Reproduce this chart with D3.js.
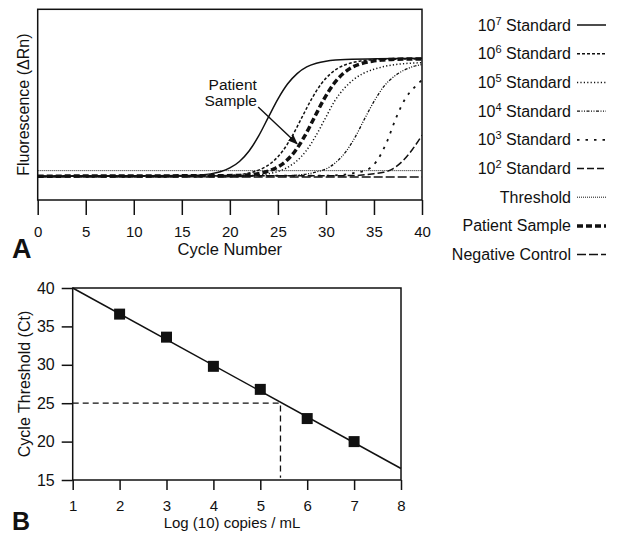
<!DOCTYPE html>
<html>
<head>
<meta charset="utf-8">
<script src="https://cdn.jsdelivr.net/npm/d3@7"></script>
<style>
  body { margin: 0; background: #fff; }
  svg { display: block; font-family: "Liberation Sans", Arial, sans-serif; }
</style>
</head>
<body>
<svg id="chart" width="619" height="534"></svg>
<script>
// ---- data: panel A amplification curves, [cycle, fluorescence]
const std7 = [[0,12.5],[16,12.8],[17,13.1],[18,13.7],[19,14.8],[20,16.8],[21,20.2],[22,25.7],[23,33.6],[24,43.3],[25,52.9],[26,60.8],[27,66.3],[28,69.8],[29,71.7],[30,72.8],[31,73.4],[32,73.7],[40,74.3]];
const std6 = [[0,12.5],[19.5,12.8],[20.5,13.1],[21.5,13.7],[22.5,14.8],[23.5,16.8],[24.5,20.2],[25.5,25.7],[26.5,33.6],[27.5,43.3],[28.5,52.9],[29.5,60.8],[30.5,66.3],[31.5,69.8],[32.5,71.7],[33.5,72.8],[34.5,73.4],[35.5,73.7],[40,74]];
const std5 = [[0,12.5],[21.9,12.8],[22.9,13.1],[23.9,13.7],[24.9,14.8],[25.9,16.8],[26.9,20.2],[27.9,25.5],[28.9,33.2],[29.9,42.5],[30.9,51.8],[31.9,58.5],[32.9,63.2],[33.9,66.4],[34.9,68.4],[35.9,69.8],[36.9,70.8],[37.9,71.4],[40,72]];
const std4 = [[0,12.5],[26.1,12.8],[27.1,13.1],[28.1,13.7],[29.1,14.8],[30.1,16.5],[31.1,20],[32.1,25.5],[33.1,33.5],[34.1,43.3],[35.1,52.5],[36.1,60],[37.1,64.8],[38.1,68],[39.1,70],[40,71]];
const std3 = [[0,12.5],[30.3,12.8],[31.3,13.1],[32.3,13.6],[33.3,14.5],[34.3,15.8],[35.3,20.5],[36.3,30],[37.3,43],[38.3,53.5],[39.3,59.5],[40,63]];
const std2 = [[0,12.5],[33,12.8],[34,13.2],[35,13.8],[36,14.5],[37,16.5],[38,20.5],[39,26.5],[40,34]];
const patient = [[0,12.5],[20.8,12.8],[21.8,13.1],[22.8,13.7],[23.8,14.8],[24.8,16.8],[25.8,20.2],[26.8,25.7],[27.8,33.6],[28.8,43.3],[29.8,52.9],[30.8,60.8],[31.8,66.3],[32.8,69.8],[33.8,71.7],[34.8,72.8],[35.8,73.4],[36.8,73.7],[40,74]];
const negative = [[0,12],[40,12]];
const threshold = 15.4;
const cycleTicks = [0, 5, 10, 15, 20, 25, 30, 35, 40];

// ---- data: panel B standard curve
const logCopies = [2, 3, 4, 5, 6, 7];
const ctValues = [36.6, 33.6, 29.8, 26.8, 23.0, 20.0];
const fitLine = [[1, 40], [8, 16.5]];
const patientCt = 25;
const patientLog = 5.43;
const logTicks = [1, 2, 3, 4, 5, 6, 7, 8];
const ctTicks = [15, 20, 25, 30, 35, 40];

// ---- legend
const legendItems = [
  { sup: "7", label: " Standard", dash: null, width: 1.5 },
  { sup: "6", label: " Standard", dash: "3,2", width: 1.5 },
  { sup: "5", label: " Standard", dash: "1.2,2.2", width: 1.5 },
  { sup: "4", label: " Standard", dash: "3,1.5,1,1.5,1,1.5", width: 1.3 },
  { sup: "3", label: " Standard", dash: "2.5,6", width: 1.8 },
  { sup: "2", label: " Standard", dash: "7,3", width: 1.5 },
  { sup: null, label: "Threshold", dash: "1,1", width: 1 },
  { sup: null, label: "Patient Sample", dash: "6,3", width: 3.5 },
  { sup: null, label: "Negative Control", dash: "9,3", width: 1.5 }
];
const curves = [std7, std6, std5, std4, std3, std2, null, patient, negative];

const svg = d3.select("#chart");

// =================== Panel A ===================
const xA = d3.scaleLinear().domain([0, 40]).range([37.7, 422]);
const yA = d3.scaleLinear().domain([0, 100]).range([200, 9.3]);

svg.append("clipPath").attr("id", "clipA")
  .append("rect")
    .attr("x", xA(0)).attr("y", yA(100))
    .attr("width", xA(40) - xA(0)).attr("height", yA(0) - yA(100));

const gA = svg.append("g");

gA.append("line")
    .attr("x1", xA(0)).attr("x2", xA(40))
    .attr("y1", yA(threshold)).attr("y2", yA(threshold))
    .attr("stroke", "#111").attr("stroke-width", 1)
    .attr("stroke-dasharray", "1,1");

const lineA = d3.line()
    .x(d => xA(d[0]))
    .y(d => yA(d[1]))
    .curve(d3.curveMonotoneX);

gA.append("g")
    .attr("clip-path", "url(#clipA)")
  .selectAll("path")
  .data(curves.map((c, i) => ({ c, s: legendItems[i] })).filter(d => d.c))
  .join("path")
    .attr("d", d => lineA(d.c))
    .attr("fill", "none")
    .attr("stroke", "#111")
    .attr("stroke-width", d => d.s.width)
    .attr("stroke-dasharray", d => d.s.dash);

gA.append("rect")
    .attr("x", xA(0)).attr("y", yA(100))
    .attr("width", xA(40) - xA(0)).attr("height", yA(0) - yA(100))
    .attr("fill", "none").attr("stroke", "#111").attr("stroke-width", 1.5);

const axA = gA.append("g")
    .attr("transform", `translate(0,${yA(0)})`)
    .call(d3.axisBottom(xA).tickValues(cycleTicks).tickSize(15).tickPadding(11));
axA.select(".domain").remove();
axA.selectAll(".tick line").attr("stroke", "#111").attr("stroke-width", 1.5);
axA.selectAll(".tick text").attr("font-size", 15).attr("fill", "#111")
    .style("font-family", "Liberation Sans, Arial, sans-serif");

gA.append("text")
    .attr("x", xA(20)).attr("y", 255)
    .attr("text-anchor", "middle").attr("font-size", 16.5).attr("fill", "#111")
    .text("Cycle Number");

gA.append("text")
    .attr("transform", `translate(29,${yA(50)}) rotate(-90)`)
    .attr("text-anchor", "middle").attr("font-size", 16).attr("fill", "#111")
    .text("Fluorescence (\u0394Rn)");

gA.append("text")
    .attr("x", 12).attr("y", 258)
    .attr("font-size", 27).attr("font-weight", "bold").attr("fill", "#111")
    .text("A");

// annotation
const noteAt = [20.3, 57.5];
const arrowFrom = [22.95, 48.8];
const arrowTo = [27.0, 29.5];
svg.append("defs").append("marker")
    .attr("id", "arrow").attr("viewBox", "0 0 10 10")
    .attr("refX", 9).attr("refY", 5)
    .attr("markerWidth", 7).attr("markerHeight", 7)
    .attr("orient", "auto")
  .append("path").attr("d", "M0,1 L10,5 L0,9 Z").attr("fill", "#111");

const note = gA.append("text")
    .attr("text-anchor", "middle").attr("font-size", 15.5).attr("fill", "#111");
note.append("tspan").attr("x", xA(noteAt[0])).attr("y", yA(noteAt[1])).text("Patient");
note.append("tspan").attr("x", xA(noteAt[0]) - 2).attr("dy", 16).text("Sample");

gA.append("line")
    .attr("x1", xA(arrowFrom[0])).attr("y1", yA(arrowFrom[1]))
    .attr("x2", xA(arrowTo[0])).attr("y2", yA(arrowTo[1]))
    .attr("stroke", "#111").attr("stroke-width", 1.4)
    .attr("marker-end", "url(#arrow)");

// legend
const leg = svg.append("g");
const rowY = i => 25 + i * 28.7;
const legRows = leg.selectAll("g")
  .data(legendItems)
  .join("g")
    .attr("transform", (d, i) => `translate(0,${rowY(i)})`);

const legText = legRows.append("text")
    .attr("x", 571).attr("y", 5.5)
    .attr("text-anchor", "end").attr("font-size", 16).attr("fill", "#111");
legText.each(function(d) {
  const t = d3.select(this);
  if (d.sup) {
    t.append("tspan").text("10");
    t.append("tspan").attr("font-size", 11).attr("dy", -6).text(d.sup);
    t.append("tspan").attr("dy", 6).text(d.label);
  } else {
    t.text(d.label);
  }
});

legRows.append("line")
    .attr("x1", 577).attr("x2", 606)
    .attr("stroke", "#111")
    .attr("stroke-width", d => d.width)
    .attr("stroke-dasharray", d => d.dash);

// =================== Panel B ===================
const xB = d3.scaleLinear().domain([1, 8]).range([72.7, 401]);
const yB = d3.scaleLinear().domain([15, 40]).range([480, 288]);
const gB = svg.append("g");

gB.append("path")
    .attr("d", d3.line()([[xB(1), yB(patientCt)], [xB(patientLog), yB(patientCt)], [xB(patientLog), yB(15.3)]]))
    .attr("fill", "none").attr("stroke", "#111").attr("stroke-width", 1.3)
    .attr("stroke-dasharray", "6,4");

gB.append("path")
    .attr("d", d3.line().x(d => xB(d[0])).y(d => yB(d[1]))(fitLine))
    .attr("fill", "none").attr("stroke", "#111").attr("stroke-width", 1.5);

gB.selectAll(".pt")
  .data(logCopies.map((x, i) => [x, ctValues[i]]))
  .join("path")
    .attr("class", "pt")
    .attr("transform", d => `translate(${xB(d[0])},${yB(d[1])})`)
    .attr("d", d3.symbol(d3.symbolSquare, 121))
    .attr("fill", "#111");

gB.append("rect")
    .attr("x", xB(1)).attr("y", yB(40))
    .attr("width", xB(8) - xB(1)).attr("height", yB(15) - yB(40))
    .attr("fill", "none").attr("stroke", "#111").attr("stroke-width", 1.5);

const axBx = gB.append("g")
    .attr("transform", `translate(0,${yB(15)})`)
    .call(d3.axisBottom(xB).tickValues(logTicks).tickFormat(d3.format("d")).tickSize(10).tickPadding(10));
axBx.select(".domain").remove();
axBx.selectAll(".tick line").attr("stroke", "#111").attr("stroke-width", 1.5);
axBx.selectAll(".tick text").attr("font-size", 15).attr("fill", "#111")
    .style("font-family", "Liberation Sans, Arial, sans-serif");

const axBy = gB.append("g")
    .attr("transform", `translate(${xB(1)},0)`)
    .call(d3.axisLeft(yB).tickValues(ctTicks).tickSize(11).tickPadding(7));
axBy.select(".domain").remove();
axBy.selectAll(".tick line").attr("stroke", "#111").attr("stroke-width", 1.5);
axBy.selectAll(".tick text").attr("font-size", 16).attr("fill", "#111")
    .style("font-family", "Liberation Sans, Arial, sans-serif");

gB.append("text")
    .attr("x", 232).attr("y", 528)
    .attr("text-anchor", "middle").attr("font-size", 15).attr("fill", "#111")
    .text("Log (10) copies / mL");

gB.append("text")
    .attr("transform", `translate(30,${yB(27.5)}) rotate(-90)`)
    .attr("text-anchor", "middle").attr("font-size", 16).attr("fill", "#111")
    .text("Cycle Threshold (Ct)");

gB.append("text")
    .attr("x", 12).attr("y", 530)
    .attr("font-size", 25).attr("font-weight", "bold").attr("fill", "#111")
    .text("B");
</script>
</body>
</html>
